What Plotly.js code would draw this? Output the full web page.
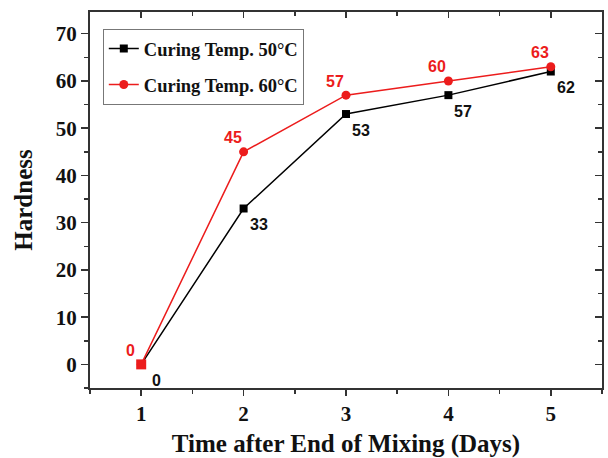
<!DOCTYPE html>
<html>
<head>
<meta charset="utf-8">
<script src="https://cdn.plot.ly/plotly-3.0.1.min.js"></script>
<style>html,body{margin:0;padding:0;background:#fff}#chart{width:608px;height:458px}</style>
</head>
<body>
<div id="chart"></div>
<script>
const days = [1, 2, 3, 4, 5];
const temp50 = [0, 33, 53, 57, 62];
const temp60 = [0, 45, 57, 60, 63];
const seriesNames = ['Curing Temp. 50°C', 'Curing Temp. 60°C'];
const xTicks = [1, 2, 3, 4, 5];
const yTicks = [0, 10, 20, 30, 40, 50, 60, 70];

const RED = '#ec1c1c';
const BLACK = '#000000';
const serif = '"Liberation Serif", "Times New Roman", serif';
const sans = '"Liberation Sans", Arial, sans-serif';

const traces = [
  {
    x: days, y: temp50, name: seriesNames[0], type: 'scatter', mode: 'lines+markers',
    line: {color: BLACK, width: 1.5}, marker: {symbol: 'square', size: 8, color: BLACK},
    legendgroup: 'a'
  },
  {
    x: days, y: temp60, name: seriesNames[1], type: 'scatter', mode: 'lines+markers',
    line: {color: RED, width: 1.5},
    marker: {symbol: 'circle', size: 9, color: RED},
    legendgroup: 'b'
  },
  {
    x: days.slice(0, 1), y: temp60.slice(0, 1), type: 'scatter', mode: 'markers',
    marker: {symbol: 'square', size: 10, color: RED}, showlegend: false, hoverinfo: 'skip'
  },
  {x: days, y: temp50, xaxis: 'x2', yaxis: 'y2', mode: 'none', showlegend: false, hoverinfo: 'skip'}
];

const annotations = [];
days.forEach((d, i) => {
  annotations.push({x: d, y: temp50[i], text: String(temp50[i]), showarrow: false,
    xshift: 15, yshift: -16, font: {family: sans, size: 16, color: '#111', weight: 'bold'}});
  annotations.push({x: d, y: temp60[i], text: String(temp60[i]), showarrow: false,
    xshift: -11, yshift: 14, font: {family: sans, size: 16, color: RED, weight: 'bold'}});
});

const axisCommon = {
  showgrid: false, zeroline: false, showline: true, linecolor: '#333', linewidth: 2,
  tickcolor: '#333', tickwidth: 1.5
};

const layout = {
  width: 608, height: 458,
  margin: {l: 90, r: 6, t: 12, b: 70},
  paper_bgcolor: '#fff', plot_bgcolor: '#fff',
  showlegend: true,
  legend: {
    x: 0.025, y: 0.955, xanchor: 'left', yanchor: 'top',
    bordercolor: '#777', borderwidth: 1, bgcolor: 'rgba(255,255,255,0)',
    font: {family: serif, size: 18.5, color: '#111', weight: 'bold'},
    traceorder: 'grouped', tracegroupgap: 9, itemwidth: 30
  },
  xaxis: Object.assign({}, axisCommon, {
    range: [0.5, 5.5], tickvals: xTicks, ticktext: xTicks.map(String),
    ticks: 'outside', ticklen: 6,
    minor: {dtick: 0.5, tick0: 0.5, ticks: 'outside', ticklen: 4, tickcolor: '#333', tickwidth: 1.5},
    tickfont: {family: serif, size: 21, color: '#111', weight: 'bold'},
    title: {text: 'Time after End of Mixing (Days)', standoff: 12,
      font: {family: serif, size: 25, color: '#111', weight: 'bold'}}
  }),
  yaxis: Object.assign({}, axisCommon, {
    range: [-5, 74.6], tickvals: yTicks, ticktext: yTicks.map(String),
    ticks: 'outside', ticklen: 7,
    minor: {dtick: 5, tick0: 5, ticks: 'outside', ticklen: 4, tickcolor: '#333', tickwidth: 1.5},
    tickfont: {family: serif, size: 21, color: '#111', weight: 'bold'},
    title: {text: 'Hardness', standoff: 16,
      font: {family: serif, size: 25, color: '#111', weight: 'bold'}}
  }),
  xaxis2: Object.assign({}, axisCommon, {
    overlaying: 'x', matches: 'x', side: 'top', anchor: 'y2',
    tickvals: xTicks, ticks: 'inside', ticklen: 6, showticklabels: false,
    minor: {dtick: 0.5, tick0: 0.5, ticks: 'inside', ticklen: 4, tickcolor: '#333', tickwidth: 1.5}
  }),
  yaxis2: Object.assign({}, axisCommon, {
    overlaying: 'y', matches: 'y', side: 'right', anchor: 'x2',
    tickvals: yTicks, ticks: 'inside', ticklen: 7, showticklabels: false,
    minor: {dtick: 5, tick0: 5, ticks: 'inside', ticklen: 4, tickcolor: '#333', tickwidth: 1.5}
  }),
  annotations: annotations
};

Plotly.newPlot('chart', traces, layout, {staticPlot: true, displayModeBar: false});
</script>
</body>
</html>
